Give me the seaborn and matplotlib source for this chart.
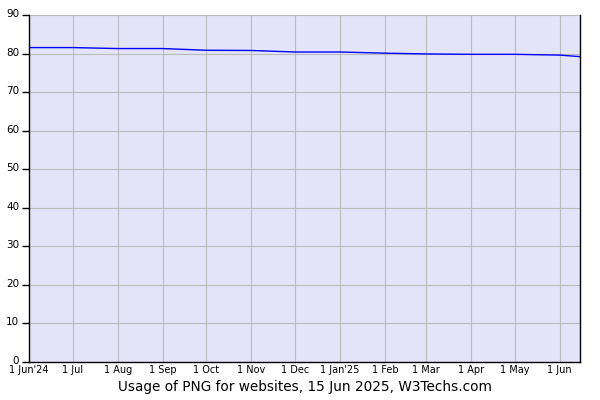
import pandas as pd
import matplotlib
matplotlib.use('Agg')
import matplotlib.pyplot as plt
import matplotlib.transforms as mtransforms
import seaborn as sns

dates = ['2024-06-01', '2024-07-01', '2024-08-01', '2024-09-01', '2024-10-01',
         '2024-11-01', '2024-12-01', '2025-01-01', '2025-02-01', '2025-03-01',
         '2025-04-01', '2025-05-01', '2025-06-01', '2025-06-15']
usage = [81.55, 81.55, 81.3, 81.3, 80.85, 80.8, 80.4, 80.4, 80.1, 79.9,
         79.8, 79.8, 79.6, 79.2]
tick_dates = ['2024-06-01', '2024-07-01', '2024-08-01', '2024-09-01', '2024-10-01',
              '2024-11-01', '2024-12-01', '2025-01-01', '2025-02-01', '2025-03-01',
              '2025-04-01', '2025-05-01', '2025-06-01']
tick_labels = ["1 Jun'24", '1 Jul', '1 Aug', '1 Sep', '1 Oct', '1 Nov', '1 Dec',
               "1 Jan'25", '1 Feb', '1 Mar', '1 Apr', '1 May', '1 Jun']
y_ticks = [0, 10, 20, 30, 40, 50, 60, 70, 80, 90]


def main():
    df = pd.DataFrame({'date': pd.to_datetime(dates), 'usage': usage})
    sns.set_style('white')
    plt.rcParams['font.family'] = ['DejaVu Sans']
    plt.rcParams['text.color'] = 'black'
    plt.rcParams['xtick.color'] = 'black'
    plt.rcParams['ytick.color'] = 'black'
    plt.rcParams['axes.labelcolor'] = 'black'

    fig = plt.figure(figsize=(6, 4), dpi=100)
    ax = fig.add_axes([29 / 600, 38 / 400, 551 / 600, 347 / 400])
    ax.set_facecolor('#e4e4f8')
    sns.lineplot(data=df, x='date', y='usage', ax=ax, color='#0000ff', linewidth=1)

    ax.set_xlim(pd.Timestamp('2024-06-01'), pd.Timestamp('2025-06-15'))
    ax.set_ylim(0, 90)
    ax.set_xticks(pd.to_datetime(tick_dates))
    ax.set_xticklabels(tick_labels, fontsize=7)
    ax.set_yticks(y_ticks)
    ax.set_yticklabels([str(v) for v in y_ticks], fontsize=7.5)
    ax.grid(True, color='#bbbbbb', linewidth=0.8)
    ax.set_axisbelow(True)
    ax.tick_params(axis='x', length=0, pad=2)
    ax.tick_params(axis='y', length=5, width=1, color='black', pad=2, left=True)
    # nudge y labels up a little, as in the original
    shift = mtransforms.ScaledTranslation(0, 2 / 100, fig.dpi_scale_trans)
    for lab in ax.get_yticklabels():
        lab.set_transform(lab.get_transform() + shift)
    for side in ['left', 'bottom', 'right']:
        ax.spines[side].set_color('black')
        ax.spines[side].set_linewidth(1)
    ax.spines['top'].set_visible(False)
    ax.set_xlabel('Usage of PNG for websites, 15 Jun 2025, W3Techs.com', fontsize=9.8, labelpad=4)
    ax.set_ylabel('')

    fig.savefig('out.png', dpi=100)


if __name__ == '__main__':
    main()
